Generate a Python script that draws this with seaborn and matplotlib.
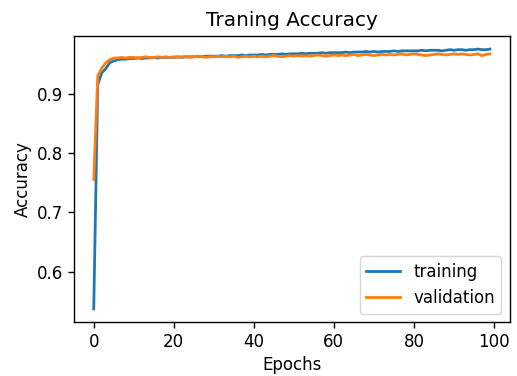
import pandas as pd
import matplotlib
matplotlib.use('Agg')
import matplotlib.pyplot as plt
import seaborn as sns

# accuracy per epoch
training = [
    0.537, 0.915, 0.935, 0.942, 0.952, 0.955, 0.957, 0.958, 0.958, 0.959,
    0.959, 0.960, 0.959, 0.960, 0.960, 0.961, 0.960, 0.961, 0.961, 0.961,
    0.961, 0.962, 0.961, 0.962, 0.962, 0.962, 0.963, 0.962, 0.963, 0.963,
    0.963, 0.963, 0.964, 0.963, 0.964, 0.964, 0.964, 0.965, 0.964, 0.965,
    0.965, 0.965, 0.966, 0.965, 0.966, 0.966, 0.966, 0.967, 0.966, 0.967,
    0.967, 0.967, 0.968, 0.967, 0.968, 0.968, 0.968, 0.969, 0.968, 0.969,
    0.969, 0.969, 0.969, 0.970, 0.969, 0.970, 0.970, 0.970, 0.971, 0.970,
    0.971, 0.970, 0.971, 0.971, 0.971, 0.972, 0.971, 0.972, 0.972, 0.972,
    0.972, 0.972, 0.973, 0.972, 0.973, 0.973, 0.973, 0.972, 0.973, 0.974,
    0.973, 0.974, 0.974, 0.973, 0.974, 0.974, 0.975, 0.974, 0.974, 0.975,
]
validation = [
    0.755, 0.930, 0.943, 0.952, 0.957, 0.960, 0.960, 0.961, 0.960, 0.961,
    0.961, 0.960, 0.961, 0.962, 0.961, 0.961, 0.962, 0.961, 0.962, 0.961,
    0.962, 0.961, 0.962, 0.962, 0.961, 0.962, 0.963, 0.962, 0.961, 0.962,
    0.962, 0.963, 0.962, 0.963, 0.962, 0.963, 0.961, 0.962, 0.963, 0.962,
    0.963, 0.962, 0.963, 0.962, 0.963, 0.964, 0.963, 0.962, 0.963, 0.964,
    0.963, 0.964, 0.963, 0.964, 0.963, 0.964, 0.965, 0.964, 0.963, 0.964,
    0.965, 0.964, 0.965, 0.964, 0.965, 0.966, 0.964, 0.965, 0.966, 0.965,
    0.964, 0.965, 0.966, 0.965, 0.966, 0.965, 0.966, 0.967, 0.965, 0.966,
    0.967, 0.966, 0.965, 0.964, 0.965, 0.966, 0.967, 0.966, 0.965, 0.966,
    0.967, 0.966, 0.967, 0.966, 0.965, 0.966, 0.967, 0.964, 0.966, 0.967,
]
epochs = list(range(len(training)))

df = pd.DataFrame({
    'Epochs': epochs * 2,
    'Accuracy': training + validation,
    'set': ['training'] * len(training) + ['validation'] * len(validation),
})

fig = plt.figure(figsize=(5.17, 3.76), dpi=100)
ax = fig.add_axes([0.143, 0.144, 0.843, 0.76])

#Draw both curves
sns.lineplot(data=df, x='Epochs', y='Accuracy', hue='set',
             palette=['tab:blue', 'tab:orange'], linewidth=2, ax=ax)

ax.set_title('Traning Accuracy', fontsize=14.4, pad=7)
ax.set_xlabel('Epochs', fontsize=12)
ax.set_ylabel('Accuracy', fontsize=12)
ax.set_xticks([0, 20, 40, 60, 80, 100])
ax.set_yticks([0.6, 0.7, 0.8, 0.9])
ax.tick_params(labelsize=12, length=4.2, width=1)
for s in ax.spines.values():
    s.set_linewidth(1)
ax.legend(loc='lower right', fontsize=12)

plt.savefig('out.png', dpi=100)
plt.close()
